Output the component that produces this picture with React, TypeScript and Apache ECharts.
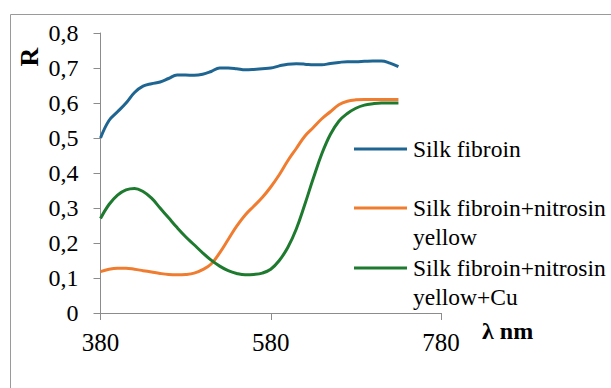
import React, { useEffect, useRef } from "react";
import * as echarts from "echarts";

const wavelengths = [380, 390, 400, 410, 420, 430, 440, 450, 460, 470, 480, 490, 500, 510, 520, 530, 540, 550, 560, 570, 580, 590, 600, 610, 620, 630, 640, 650, 660, 670, 680, 690, 700, 710, 720, 730];
const silkFibroin = [0.5, 0.55, 0.575, 0.6, 0.63, 0.648, 0.655, 0.66, 0.67, 0.68, 0.68, 0.679, 0.682, 0.69, 0.7, 0.7, 0.698, 0.695, 0.696, 0.698, 0.7, 0.706, 0.711, 0.712, 0.711, 0.709, 0.709, 0.713, 0.716, 0.718, 0.718, 0.719, 0.72, 0.72, 0.714, 0.704];
const nitrosinYellow = [0.118, 0.125, 0.128, 0.128, 0.125, 0.121, 0.117, 0.113, 0.11, 0.109, 0.11, 0.114, 0.124, 0.14, 0.172, 0.21, 0.248, 0.28, 0.305, 0.33, 0.36, 0.395, 0.435, 0.47, 0.505, 0.53, 0.555, 0.575, 0.595, 0.605, 0.609, 0.61, 0.61, 0.61, 0.61, 0.61];
const nitrosinYellowCu = [0.27, 0.31, 0.337, 0.352, 0.356, 0.347, 0.328, 0.3, 0.272, 0.244, 0.218, 0.195, 0.172, 0.151, 0.134, 0.121, 0.113, 0.109, 0.11, 0.114, 0.125, 0.15, 0.187, 0.24, 0.31, 0.385, 0.455, 0.51, 0.548, 0.57, 0.585, 0.594, 0.598, 0.6, 0.6, 0.6];

const seriesNames = ["Silk fibroin", "Silk fibroin+nitrosin yellow", "Silk fibroin+nitrosin yellow+Cu"];
const legendLines = [["Silk fibroin"], ["Silk fibroin+nitrosin", "yellow"], ["Silk fibroin+nitrosin", "yellow+Cu"]];
const colors = ["#1f6592", "#f07c30", "#1e7a2e"];
const xStart = 380;
const xTicks = [380, 580, 780];

const FONT = "Liberation Serif";

export default function App() {
  const ref = useRef<HTMLDivElement>(null);
  useEffect(() => {
    const chart = echarts.init(ref.current!, null, { renderer: "svg" });
    const allSeries = [silkFibroin, nitrosinYellow, nitrosinYellowCu];
    const legendY = [149, 208, 268];
    const graphics: any[] = [
      {
        type: "rect",
        shape: { x: 10.5, y: 14.5, width: 700, height: 500 },
        style: { fill: "none", stroke: "#9a9a9a", lineWidth: 1 },
        silent: true,
      },
      {
        type: "text",
        x: 29,
        y: 57,
        rotation: Math.PI / 2,
        style: { text: "R", fontFamily: FONT, fontWeight: "bold", fontSize: 26, fill: "#000", align: "center", verticalAlign: "middle" },
      },
      {
        type: "text",
        x: 482,
        y: 331,
        style: { text: "λ nm", fontFamily: FONT, fontWeight: "bold", fontSize: 24, fill: "#000", align: "left", verticalAlign: "middle" },
      },
    ];
    legendLines.forEach((lines, i) => {
      graphics.push({
        type: "line",
        shape: { x1: 354, y1: legendY[i], x2: 407, y2: legendY[i] },
        style: { stroke: colors[i], lineWidth: 3 },
      });
      lines.forEach((t, j) => {
        graphics.push({
          type: "text",
          x: 413,
          y: legendY[i] + j * 29,
          style: { text: t, fontFamily: FONT, fontSize: 23.5, fill: "#000", align: "left", verticalAlign: "middle" },
        });
      });
    });

    chart.setOption({
      animation: false,
      textStyle: { fontFamily: FONT },
      grid: { left: 100.5, top: 33, right: 170, bottom: 75 },
      xAxis: {
        type: "value",
        min: 0,
        max: xTicks[xTicks.length - 1] - xStart,
        interval: xTicks[1] - xTicks[0],
        axisLine: { show: true, lineStyle: { color: "#8c8c8c", width: 1 } },
        axisTick: { show: true, length: 7, inside: false, lineStyle: { color: "#8c8c8c" } },
        splitLine: { show: false },
        axisLabel: {
          formatter: (v: number) => String(v + xStart),
          fontFamily: FONT,
          fontSize: 25,
          color: "#000",
          margin: 17,
        },
      },
      yAxis: {
        type: "value",
        min: 0,
        max: 0.8,
        interval: 0.1,
        axisLine: { show: true, lineStyle: { color: "#8c8c8c", width: 1 } },
        axisTick: { show: true, length: 7, inside: false, lineStyle: { color: "#8c8c8c" } },
        splitLine: { show: false },
        axisLabel: {
          formatter: (v: number) => (v === 0 ? "0" : v.toFixed(1).replace(".", ",")),
          fontFamily: FONT,
          fontSize: 24,
          color: "#000",
          margin: 22,
        },
      },
      series: allSeries.map((vals, i) => ({
        name: seriesNames[i],
        type: "line",
        smooth: 0.4,
        showSymbol: false,
        symbol: "none",
        lineStyle: { color: colors[i], width: 3 },
        itemStyle: { color: colors[i] },
        data: wavelengths.map((w, k) => [w - xStart, vals[k]]),
      })),
      graphic: graphics,
    });
    return () => chart.dispose();
  }, []);
  return <div ref={ref} style={{ position: "fixed", left: 0, top: 0, width: 611, height: 388, background: "#fff" }} />;
}
